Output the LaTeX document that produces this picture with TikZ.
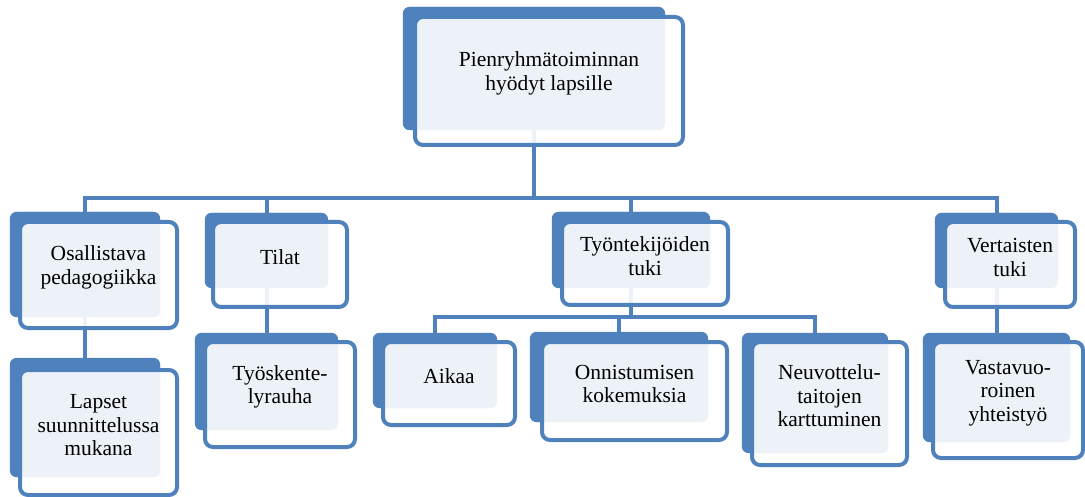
\documentclass[tikz,border=0pt]{standalone}
\usepackage{fontspec}
\setmainfont{Liberation Serif}
\usetikzlibrary{fit}
\definecolor{tehoste}{HTML}{4F81BD}
\tikzset{
  takalaatikko/.style={rectangle, rounded corners=7pt, inner sep=0pt, fill=tehoste, draw=none},
  etulaatikko/.style={rectangle, rounded corners=8pt, inner sep=0pt, draw=tehoste, line width=4pt,
    fill=white, fill opacity=0.9, text opacity=1, align=center, text=black,
    font=\fontsize{21.5}{23.5}\selectfont},
  yhteys/.style={draw=tehoste, line width=4pt},
}
\begin{document}
\begin{tikzpicture}[x=1pt,y=-1pt]
\useasboundingbox (0,0) rectangle (1085,497);

% back panels (named, connectors attach to them)
\node[takalaatikko, fit={(403,7) (665,130)}] (top) {};
\node[takalaatikko, fit={(10,212) (160,317)}] (osa) {};
\node[takalaatikko, fit={(205,213) (328,288)}] (til) {};
\node[takalaatikko, fit={(552,212) (710,288)}] (tyo) {};
\node[takalaatikko, fit={(935,213) (1058,288)}] (ver) {};
\node[takalaatikko, fit={(10,358) (160,477)}] (lap) {};
\node[takalaatikko, fit={(195,333) (338,430)}] (rau) {};
\node[takalaatikko, fit={(373,333) (497,408)}] (aik) {};
\node[takalaatikko, fit={(530,332) (708,422)}] (onn) {};
\node[takalaatikko, fit={(742,333) (888,453)}] (neu) {};
\node[takalaatikko, fit={(923,333) (1070,442)}] (vas) {};

% connectors
\coordinate (vayla) at (534,198);
\coordinate (vayla2) at (631,317);
\draw[yhteys] (top.south) -- (vayla);
\draw[yhteys] (osa.north) |- (vayla);
\draw[yhteys] (til.north) |- (vayla);
\draw[yhteys] (tyo.north) |- (vayla);
\draw[yhteys] (ver.north) |- (vayla);
\draw[yhteys] (osa.south) -- (lap.north);
\draw[yhteys] (til.south) -- (rau.north);
\draw[yhteys] (ver.south) -- (vas.north);
\draw[yhteys] (tyo.south) -- (vayla2);
\draw[yhteys] (aik.north) |- (vayla2);
\draw[yhteys] (onn.north) |- (vayla2);
\draw[yhteys] (neu.north) |- (vayla2);

% redraw back panels over connector ends
\foreach \n in {top,osa,til,tyo,ver,lap,rau,aik,onn,neu,vas}{
  \fill[tehoste, rounded corners=7pt] (\n.north west) rectangle (\n.south east);
}

% front panels with labels
\node[etulaatikko, fit={(415,17) (683,145)}] (topE) {Pienryhmätoiminnan\\hyödyt lapsille};
\node[etulaatikko, fit={(20,222) (177,328)}] (osaE) {Osallistava\\pedagogiikka};
\node[etulaatikko, fit={(213,222) (347,307)}] (tilE) {Tilat};
\node[etulaatikko, fit={(562,222) (728,305)}] (tyoE) {Työntekijöiden\\tuki};
\node[etulaatikko, fit={(945,222) (1075,307)}] (verE) {Vertaisten\\tuki};
\node[etulaatikko, fit={(20,370) (177,495)}] (lapE) {Lapset\\suunnittelussa\\mukana};
\node[etulaatikko, fit={(205,342) (355,447)}] (rauE) {Työskente-\\lyrauha};
\node[etulaatikko, fit={(383,342) (515,425)}] (aikE) {Aikaa};
\node[etulaatikko, fit={(542,342) (727,440)}] (onnE) {Onnistumisen\\kokemuksia};
\node[etulaatikko, fit={(752,342) (907,465)}] (neuE) {Neuvottelu-\\taitojen\\karttuminen};
\node[etulaatikko, fit={(933,342) (1083,458)}] (vasE) {Vastavuo-\\roinen\\yhteistyö};
\end{tikzpicture}
\end{document}
